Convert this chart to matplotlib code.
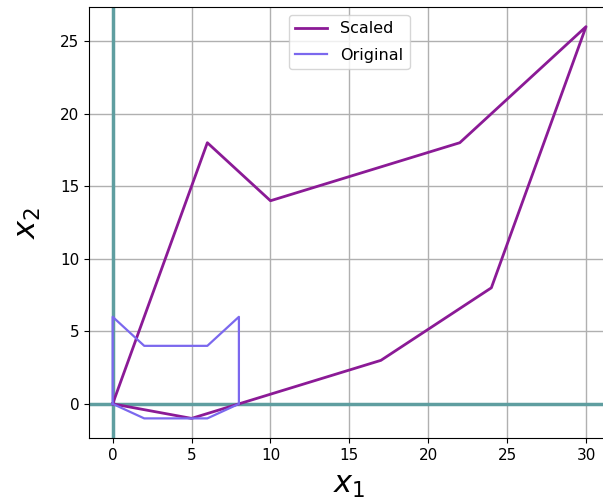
import matplotlib.pyplot as plt

# shape vertices
orig_x = [0, 0, 2, 6, 8, 8, 6, 2, 0]
orig_y = [0, 6, 4, 4, 6, 0, -1, -1, 0]
scaled_x = [0, 6, 10, 22, 30, 24, 17, 5, 0]
scaled_y = [0, 18, 14, 18, 26, 8, 3, -1, 0]

fig = plt.figure(figsize=(6.03, 5.04), dpi=100)
ax = fig.add_axes([0.1476, 0.131, 0.8635, 0.855])

ax.plot(scaled_x, scaled_y, color='#8B1A96', lw=2, label='Scaled', zorder=3)
ax.plot(orig_x, orig_y, color='#7B68EE', lw=1.6, label='Original', zorder=3)
ax.axhline(0, color='#5F9EA0', lw=2.5, zorder=2)
ax.axvline(0, color='#5F9EA0', lw=2.5, zorder=2)

ax.set_xlim(-1.5, 31.5)
ax.set_ylim(-2.35, 27.35)
ax.grid(True, color='#b0b0b0', lw=1)
ax.tick_params(labelsize=11)
ax.set_xlabel('$x_1$', fontsize=22, labelpad=6)
ax.set_ylabel('$x_2$', fontsize=22, labelpad=12)
ax.legend(loc='upper center', fontsize=11.5, labelspacing=0.7)

fig.savefig('out.png', dpi=100)
